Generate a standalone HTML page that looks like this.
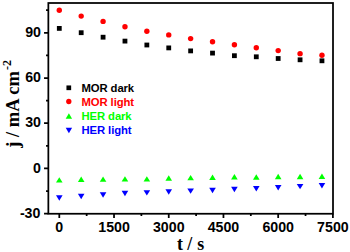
<!DOCTYPE html><html><head><meta charset="utf-8"><style>html,body{margin:0;padding:0;background:#fff;width:350px;height:252px;overflow:hidden}svg{display:block}</style></head><body>
<svg width="350" height="252" viewBox="0 0 350 252">
<rect width="350" height="252" fill="#fff"/>
<rect x="48.35" y="3.0" width="284.65" height="210.75" fill="none" stroke="#000" stroke-width="1.75"/>
<path d="M44.05 213.60H48.35 M44.05 168.40H48.35 M44.05 123.20H48.35 M44.05 78.00H48.35 M44.05 32.80H48.35 M46.05 191.00H48.35 M46.05 145.80H48.35 M46.05 100.60H48.35 M46.05 55.40H48.35 M46.05 10.20H48.35 M59.30 213.75V218.05 M114.02 213.75V218.05 M168.74 213.75V218.05 M223.46 213.75V218.05 M278.18 213.75V218.05 M332.90 213.75V218.05 M86.66 213.75V216.05 M141.38 213.75V216.05 M196.10 213.75V216.05 M250.82 213.75V216.05 M305.54 213.75V216.05" stroke="#000" stroke-width="1.75" fill="none"/>
<g font-family="Liberation Sans, sans-serif" font-weight="bold" font-size="14.2" fill="#000">
<text transform="translate(40.4 217.85) scale(1 1.07)" text-anchor="end">-30</text>
<text transform="translate(41.0 172.65) scale(1 1.07)" text-anchor="end">0</text>
<text transform="translate(41.0 127.45) scale(1 1.07)" text-anchor="end">30</text>
<text transform="translate(41.0 82.25) scale(1 1.07)" text-anchor="end">60</text>
<text transform="translate(41.0 37.05) scale(1 1.07)" text-anchor="end">90</text>
<text transform="translate(59.30 232.3) scale(1 1.06)" text-anchor="middle">0</text>
<text transform="translate(114.02 232.3) scale(1 1.06)" text-anchor="middle">1500</text>
<text transform="translate(168.74 232.3) scale(1 1.06)" text-anchor="middle">3000</text>
<text transform="translate(223.46 232.3) scale(1 1.06)" text-anchor="middle">4500</text>
<text transform="translate(278.18 232.3) scale(1 1.06)" text-anchor="middle">6000</text>
<text transform="translate(332.90 232.3) scale(1 1.06)" text-anchor="middle">7500</text>
</g>
<text x="190.6" y="249.8" text-anchor="middle" font-family="Liberation Serif, serif" font-weight="bold" font-size="17.9">t / <tspan dx="0.5">s</tspan></text>
<text transform="translate(18.9 147.7) rotate(-90)" font-family="Liberation Serif, serif" font-weight="bold" font-size="18.5">j / mA cm<tspan font-size="12" dx="1.2" dy="-8.1">-2</tspan></text>
<rect x="56.90" y="26.00" width="4.8" height="4.8" fill="#000"/>
<rect x="78.79" y="30.30" width="4.8" height="4.8" fill="#000"/>
<rect x="100.68" y="34.80" width="4.8" height="4.8" fill="#000"/>
<rect x="122.56" y="38.70" width="4.8" height="4.8" fill="#000"/>
<rect x="144.45" y="42.60" width="4.8" height="4.8" fill="#000"/>
<rect x="166.34" y="45.50" width="4.8" height="4.8" fill="#000"/>
<rect x="188.23" y="48.50" width="4.8" height="4.8" fill="#000"/>
<rect x="210.12" y="50.70" width="4.8" height="4.8" fill="#000"/>
<rect x="232.00" y="53.30" width="4.8" height="4.8" fill="#000"/>
<rect x="253.89" y="54.40" width="4.8" height="4.8" fill="#000"/>
<rect x="275.78" y="56.10" width="4.8" height="4.8" fill="#000"/>
<rect x="297.67" y="57.40" width="4.8" height="4.8" fill="#000"/>
<rect x="319.56" y="58.40" width="4.8" height="4.8" fill="#000"/>
<circle cx="59.30" cy="10.20" r="2.7" fill="#ff0000"/>
<circle cx="81.19" cy="16.10" r="2.7" fill="#ff0000"/>
<circle cx="103.08" cy="21.40" r="2.7" fill="#ff0000"/>
<circle cx="124.96" cy="26.80" r="2.7" fill="#ff0000"/>
<circle cx="146.85" cy="31.25" r="2.7" fill="#ff0000"/>
<circle cx="168.74" cy="34.90" r="2.7" fill="#ff0000"/>
<circle cx="190.63" cy="38.60" r="2.7" fill="#ff0000"/>
<circle cx="212.52" cy="41.80" r="2.7" fill="#ff0000"/>
<circle cx="234.40" cy="44.80" r="2.7" fill="#ff0000"/>
<circle cx="256.29" cy="47.80" r="2.7" fill="#ff0000"/>
<circle cx="278.18" cy="50.60" r="2.7" fill="#ff0000"/>
<circle cx="300.07" cy="53.65" r="2.7" fill="#ff0000"/>
<circle cx="321.96" cy="55.20" r="2.7" fill="#ff0000"/>
<path d="M59.30 177.20L62.60 182.60L56.00 182.60Z" fill="#00ff00"/>
<path d="M81.19 176.60L84.49 182.00L77.89 182.00Z" fill="#00ff00"/>
<path d="M103.08 176.40L106.38 181.80L99.78 181.80Z" fill="#00ff00"/>
<path d="M124.96 176.20L128.26 181.60L121.66 181.60Z" fill="#00ff00"/>
<path d="M146.85 176.20L150.15 181.60L143.55 181.60Z" fill="#00ff00"/>
<path d="M168.74 175.30L172.04 180.70L165.44 180.70Z" fill="#00ff00"/>
<path d="M190.63 174.90L193.93 180.30L187.33 180.30Z" fill="#00ff00"/>
<path d="M212.52 174.50L215.82 179.90L209.22 179.90Z" fill="#00ff00"/>
<path d="M234.40 174.00L237.70 179.40L231.10 179.40Z" fill="#00ff00"/>
<path d="M256.29 174.25L259.59 179.65L252.99 179.65Z" fill="#00ff00"/>
<path d="M278.18 173.85L281.48 179.25L274.88 179.25Z" fill="#00ff00"/>
<path d="M300.07 173.75L303.37 179.15L296.77 179.15Z" fill="#00ff00"/>
<path d="M321.96 173.50L325.26 178.90L318.66 178.90Z" fill="#00ff00"/>
<path d="M56.00 195.25L62.60 195.25L59.30 200.65Z" fill="#0000ff"/>
<path d="M77.89 193.75L84.49 193.75L81.19 199.15Z" fill="#0000ff"/>
<path d="M99.78 192.35L106.38 192.35L103.08 197.75Z" fill="#0000ff"/>
<path d="M121.66 190.85L128.26 190.85L124.96 196.25Z" fill="#0000ff"/>
<path d="M143.55 190.15L150.15 190.15L146.85 195.55Z" fill="#0000ff"/>
<path d="M165.44 189.25L172.04 189.25L168.74 194.65Z" fill="#0000ff"/>
<path d="M187.33 188.45L193.93 188.45L190.63 193.85Z" fill="#0000ff"/>
<path d="M209.22 187.75L215.82 187.75L212.52 193.15Z" fill="#0000ff"/>
<path d="M231.10 186.75L237.70 186.75L234.40 192.15Z" fill="#0000ff"/>
<path d="M252.99 186.10L259.59 186.10L256.29 191.50Z" fill="#0000ff"/>
<path d="M274.88 185.05L281.48 185.05L278.18 190.45Z" fill="#0000ff"/>
<path d="M296.77 183.90L303.37 183.90L300.07 189.30Z" fill="#0000ff"/>
<path d="M318.66 183.00L325.26 183.00L321.96 188.40Z" fill="#0000ff"/>
<rect x="66.45" y="85.45" width="4.7" height="4.7" fill="#000"/>
<circle cx="68.8" cy="101.5" r="2.65" fill="#ff0000"/>
<path d="M68.9 113.3L72.1 118.7L65.7 118.7Z" fill="#00ff00"/>
<path d="M65.7 127.8L72.1 127.8L68.9 133.2Z" fill="#0000ff"/>
<g font-family="Liberation Sans, sans-serif" font-weight="bold" font-size="11.3" letter-spacing="-0.1">
<text x="81.5" y="91.80" fill="#000">MOR dark</text>
<text x="81.5" y="105.50" fill="#ff0000">MOR light</text>
<text x="81.5" y="119.80" fill="#00ff00">HER dark</text>
<text x="81.5" y="134.00" fill="#0000ff">HER light</text>
</g>
</svg></body></html>
